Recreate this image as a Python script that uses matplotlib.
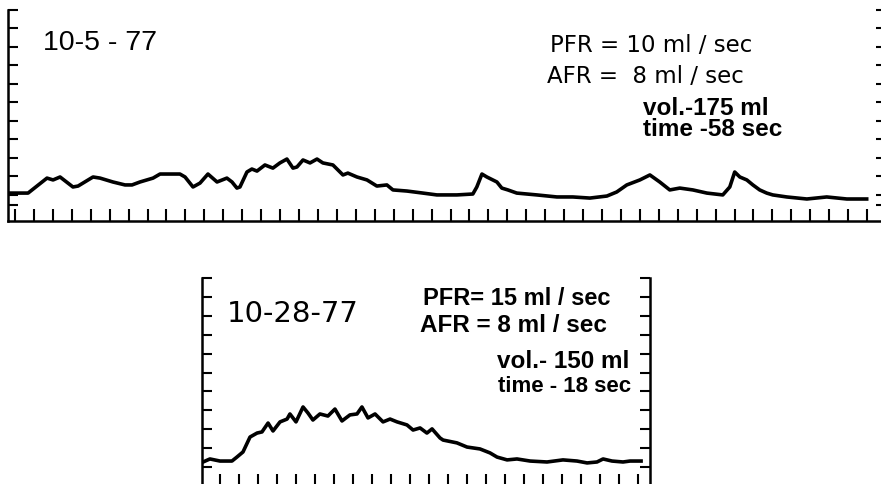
import numpy as np
import matplotlib
matplotlib.use("Agg")
import matplotlib.pyplot as plt

# chart-paper divisions (x: time divisions, y: flow divisions)
top_t = [-0.37, 0.69, 1.69, 2.01, 2.38, 3.06, 3.33, 4.12, 4.49, 5.17, 5.81, 6.18,
         6.60, 7.29, 7.66, 8.71, 8.98, 9.40, 9.77, 10.19, 10.67, 11.19, 11.46, 11.72,
         11.88, 12.25, 12.51, 12.78, 13.20, 13.62, 13.99, 14.36, 14.68, 14.89, 15.21,
         15.58, 15.95, 16.26, 16.79, 17.32, 17.58, 18.06, 18.59, 19.11, 19.64, 19.96,
         20.70, 21.54, 22.28, 23.34, 24.18, 24.39, 24.66, 24.92, 25.45, 25.71, 26.03,
         26.50, 27.56, 28.62, 29.46, 30.36, 31.26, 31.78, 32.31, 33.00, 33.53, 34.05,
         34.58, 35.11, 35.80, 36.54, 37.38, 37.75, 38.01, 38.28, 38.65, 38.97, 39.33,
         39.70, 40.02, 40.76, 41.82, 42.87, 43.93, 44.98]
top_flow = [1.51, 1.51, 2.32, 2.22, 2.38, 1.84, 1.89, 2.38, 2.32, 2.11, 1.95, 1.95,
            2.11, 2.32, 2.54, 2.54, 2.38, 1.84, 2.05, 2.54, 2.11, 2.32, 2.11, 1.78,
            1.84, 2.65, 2.81, 2.70, 3.03, 2.86, 3.14, 3.35, 2.86, 2.92, 3.30,
            3.14, 3.35, 3.14, 3.03, 2.49, 2.59, 2.38, 2.22, 1.89, 1.95, 1.68,
            1.62, 1.51, 1.41, 1.41, 1.46, 1.84, 2.54, 2.38, 2.11, 1.78, 1.68,
            1.51, 1.41, 1.30, 1.30, 1.24, 1.35, 1.57, 1.95, 2.22, 2.49, 2.11,
            1.68, 1.78, 1.68, 1.51, 1.41, 1.84, 2.65, 2.38, 2.22, 1.95, 1.68,
            1.51, 1.41, 1.30, 1.19, 1.30, 1.19, 1.19]

bot_t = [-0.89, -0.53, 0.00, 0.63, 0.89, 1.21, 1.58, 1.95, 2.21, 2.53, 2.79, 3.16,
         3.53, 3.68, 4.00, 4.37, 4.63, 4.89, 5.26, 5.68, 6.05, 6.42, 6.84, 7.21,
         7.47, 7.79, 8.16, 8.58, 8.95, 9.32, 9.84, 10.16, 10.53, 10.89, 11.16, 11.58,
         11.74, 12.47, 13.00, 13.68, 14.21, 14.58, 15.11, 15.63, 16.32, 17.21, 18.05,
         18.79, 19.32, 19.84, 20.16, 20.63, 21.21, 21.58, 22.16]
bot_flow = [1.27, 1.43, 1.32, 1.32, 1.53, 1.80, 2.59, 2.80, 2.86, 3.33, 2.91, 3.39,
            3.54, 3.81, 3.39, 4.18, 3.86, 3.49, 3.81, 3.70, 4.07, 3.44, 3.76, 3.81,
            4.18, 3.60, 3.81, 3.39, 3.54, 3.39, 3.23, 2.96, 3.07, 2.80, 3.02, 2.54,
            2.43, 2.28, 2.06, 1.96, 1.75, 1.53, 1.38, 1.43, 1.32, 1.27, 1.38,
            1.32, 1.22, 1.27, 1.43, 1.32, 1.27, 1.32, 1.32]

top_yticks = [0.86] + [1.41 + k for k in range(11)]
top_labels = ["10-5 - 77", "PFR = 10 ml / sec", "AFR =  8 ml / sec",
              "vol.-175 ml", "time -58 sec"]
bot_labels = ["10-28-77", "PFR= 15 ml / sec", "AFR = 8 ml / sec",
              "vol.- 150 ml", "time - 18 sec"]

W, H = 881, 484
fig = plt.figure(figsize=(W / 100, H / 100), dpi=100)
plt.rcParams['font.family'] = ['Liberation Sans', 'DejaVu Sans']


def px_axes(l, t, r, b):
    return fig.add_axes([l / W, 1 - b / H, (r - l) / W, (b - t) / H])


def style(ax):
    for s in ax.spines.values():
        s.set_linewidth(1.8)
    ax.tick_params(direction='in', width=1.5, labelleft=False, labelbottom=False,
                   labelright=False)
    ax.tick_params(axis='x', length=8.5)
    ax.tick_params(axis='y', length=7.2)


# top panel
ax1 = px_axes(8, 10, 886, 221)
ax1.plot(top_t, top_flow, color='black', lw=2.6, solid_joinstyle='round')
ax1.set_xlim(-0.37, 46)
ax1.set_ylim(0, 11.41)
ax1.set_xticks(range(46))
ax1.set_yticks(top_yticks)
ax1.spines['top'].set_visible(False)
ax1.yaxis.set_ticks_position('both')
style(ax1)

# bottom panel
ax2 = px_axes(202, 278, 650, 486)
ax2.plot(bot_t, bot_flow, color='black', lw=2.6, solid_joinstyle='round')
ax2.set_xlim(-0.947, 22.63)
ax2.set_ylim(0, 11)
ax2.set_xticks(range(23))
ax2.set_yticks(range(12))
ax2.spines['top'].set_visible(False)
ax2.spines['bottom'].set_visible(False)
ax2.yaxis.set_ticks_position('both')
style(ax2)


def ftext(x, y, s, size, family='Liberation Sans', weight='normal'):
    fig.text(x / W, 1 - y / H, s, fontsize=size, va='baseline', ha='left',
             family=[family, 'DejaVu Sans'], fontweight=weight)


ftext(43, 50, top_labels[0], 20.5)
ftext(550, 52, top_labels[1], 16.5, 'DejaVu Sans')
ftext(547, 83, top_labels[2], 16.5, 'DejaVu Sans')
ftext(643, 115, top_labels[3], 17.5, weight='bold')
ftext(643, 136, top_labels[4], 17.5, weight='bold')

ftext(227, 322, bot_labels[0], 21, 'DejaVu Sans')
ftext(423, 305, bot_labels[1], 17, weight='bold')
ftext(420, 332, bot_labels[2], 17.5, weight='bold')
ftext(497, 368, bot_labels[3], 17.5, weight='bold')
ftext(498, 392, bot_labels[4], 16, weight='bold')

fig.savefig("out.png", dpi=100)
